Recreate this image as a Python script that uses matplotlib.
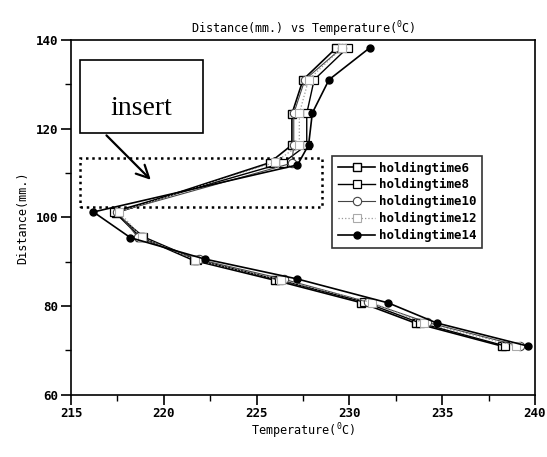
import numpy as np
import matplotlib
matplotlib.use('Agg')
import matplotlib.pyplot as plt
from matplotlib import patches
from matplotlib.ticker import MultipleLocator

plt.rcParams['font.family'] = ['DejaVu Sans Mono']
plt.rcParams['font.weight'] = 'bold'
plt.rcParams['mathtext.default'] = 'regular'

# distance (mm.) of each measuring point, top to bottom
dist6 = [138.2, 131.0, 123.3, 116.3, 112.3, 101.0, 95.6, 90.3, 85.8, 80.8, 76.1, 71.0]
dist8 = [138.2, 131.0, 123.4, 116.3, 112.2, 101.3, 95.6, 90.4, 85.9, 80.9, 76.2, 71.0]
dist10 = [138.2, 131.0, 123.4, 116.3, 112.2, 101.2, 95.5, 90.5, 86.0, 80.9, 76.3, 71.0]
dist12 = [138.2, 131.0, 123.4, 116.3, 112.4, 101.2, 95.5, 90.4, 85.9, 80.8, 76.2, 71.0]
dist14 = [138.2, 131.0, 123.5, 116.3, 111.8, 101.2, 95.4, 90.6, 86.1, 80.7, 76.2, 71.0]

# temperature (C)
temp6 = [229.3, 227.5, 226.9, 226.9, 225.7, 217.4, 218.7, 221.6, 226.0, 230.6, 233.6, 238.2]
temp8 = [229.9, 228.1, 227.7, 227.7, 226.4, 217.3, 218.9, 221.8, 226.2, 230.8, 233.8, 238.4]
temp10 = [229.6, 227.6, 227.0, 227.0, 226.9, 217.5, 218.6, 221.9, 226.5, 231.0, 234.2, 239.2]
temp12 = [229.6, 227.8, 227.3, 227.3, 226.0, 217.6, 218.8, 221.7, 226.3, 231.2, 234.0, 239.0]
temp14 = [231.1, 228.9, 228.0, 227.8, 227.2, 216.2, 218.2, 222.2, 227.2, 232.1, 234.7, 239.6]

labels = ['holdingtime6', 'holdingtime8', 'holdingtime10', 'holdingtime12', 'holdingtime14']

fig = plt.figure(figsize=(5.47, 4.57), dpi=100)
ax = fig.add_axes([0.130, 0.136, 0.848, 0.777])

ax.plot(temp6, dist6, color='black', lw=1.2, marker='s', ms=6, mfc='white', mec='black', mew=1.0, label=labels[0])
ax.plot(temp8, dist8, color='black', lw=1.0, marker='s', ms=6, mfc='white', mec='black', mew=0.9, label=labels[1])
ax.plot(temp10, dist10, color='#444444', lw=0.8, marker='o', ms=6, mfc='white', mec='#444444', mew=0.8, label=labels[2])
ax.plot(temp12, dist12, color='#999999', lw=0.9, ls=':', marker='s', ms=6, mfc='white', mec='#aaaaaa', mew=0.8, label=labels[3])
ax.plot(temp14, dist14, color='black', lw=1.2, marker='o', ms=5, mfc='black', mec='black', label=labels[4])

# dotted "insert" region
ax.add_patch(patches.Rectangle((215.5, 102.4), 13.0, 11.0, fill=False, ls=(0, (1, 1.5)), lw=1.8, color='black'))
# callout box
ax.add_patch(patches.Rectangle((215.5, 119.0), 6.6, 16.5, fill=False, lw=1.2, color='black'))
ax.text(218.8, 123.0, 'insert', family='Liberation Serif', weight='normal', fontsize=20, ha='center', va='baseline')
ax.annotate('', xy=(219.4, 108.0), xytext=(216.8, 118.9),
            arrowprops=dict(arrowstyle='->,head_length=0.9,head_width=0.45', color='black', lw=1.6))

ax.set_xlim(215, 240)
ax.set_ylim(60, 140)
ax.xaxis.set_major_locator(MultipleLocator(5))
ax.xaxis.set_minor_locator(MultipleLocator(2.5))
ax.yaxis.set_major_locator(MultipleLocator(20))
ax.yaxis.set_minor_locator(MultipleLocator(10))
ax.tick_params(which='major', direction='out', length=7, width=1.2, labelsize=9, pad=2)
ax.tick_params(which='minor', direction='out', length=4, width=1.0)
for s in ax.spines.values():
    s.set_linewidth(1.2)

ax.set_title('Distance(mm.) vs Temperature($^0$C)', fontsize=8.5, pad=5)
ax.set_xlabel('Temperature($^0$C)', fontsize=8.5, labelpad=1)
ax.set_ylabel('Distance(mm.)', fontsize=8.5, labelpad=5)

leg = ax.legend(loc='upper left', bbox_to_anchor=(0.563, 0.673), fontsize=9, frameon=True,
                fancybox=False, edgecolor='black', handlelength=3.0, labelspacing=0.3,
                borderpad=0.45, handletextpad=0.3, borderaxespad=0)
leg.get_frame().set_linewidth(1.2)

fig.savefig('out.png', dpi=100)
